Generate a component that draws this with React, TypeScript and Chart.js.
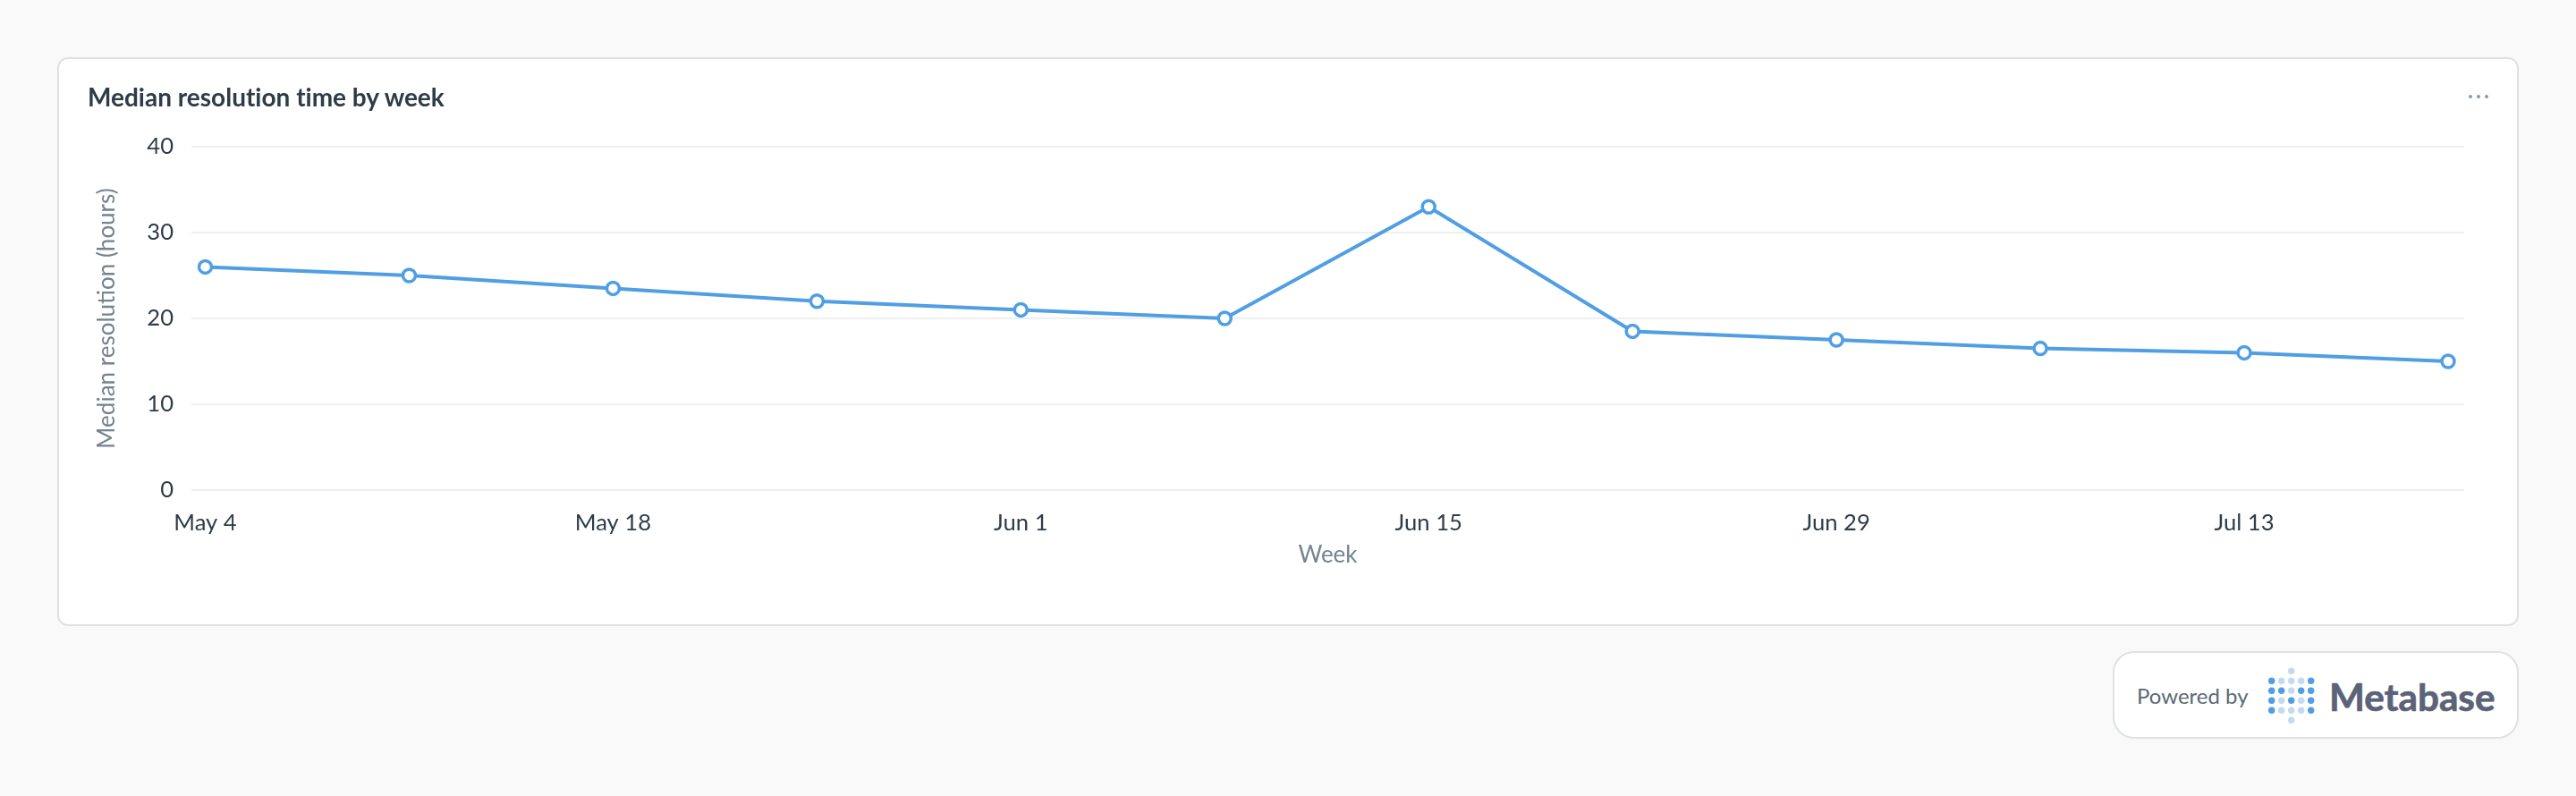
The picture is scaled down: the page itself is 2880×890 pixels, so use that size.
import { useEffect, useRef } from 'react';
import { Chart, registerables } from 'chart.js';

Chart.register(...registerables);

const weeks = ['May 4', 'May 11', 'May 18', 'May 25', 'Jun 1', 'Jun 8', 'Jun 15', 'Jun 22', 'Jun 29', 'Jul 6', 'Jul 13', 'Jul 20'];
const medianHours = [26, 25, 23.5, 22, 21, 20, 33, 18.5, 17.5, 16.5, 16, 15];
const weekTicks = [0, 2, 4, 6, 8, 10];
const hourTicks = [0, 10, 20, 30, 40];

const BLUE = '#509ee3';
const PALE = '#c4daf1';
const TICK_COLOR = '#2e3c48';
const LOGO_ROWS = [
  [BLUE, PALE, PALE, PALE, BLUE],
  [BLUE, BLUE, PALE, BLUE, BLUE],
  [BLUE, PALE, BLUE, PALE, BLUE],
  [BLUE, PALE, PALE, PALE, BLUE],
];

function Logo() {
  return (
    <svg width="60" height="66" style={{ position: 'absolute', left: 2532, top: 745 }}>
      <circle cx="29.7" cy="5.3" r="3.7" fill={PALE} />
      <circle cx="29.7" cy="60.3" r="3.7" fill={PALE} />
      {LOGO_ROWS.map((row, r) =>
        row.map((color, c) => <circle key={`${r}-${c}`} cx={7.7 + c * 11} cy={16.3 + r * 11} r="3.7" fill={color} />)
      )}
    </svg>
  );
}

export default function App() {
  const chartRef = useRef<HTMLCanvasElement>(null);

  useEffect(() => {
    document.body.style.margin = '0';
    document.body.style.background = '#f9f9f9';
    if (!chartRef.current) return;

    const chart = new Chart(chartRef.current, {
      type: 'line',
      data: {
        datasets: [
          {
            label: 'Median resolution (hours)',
            data: medianHours.map((y, x) => ({ x, y })),
            borderColor: BLUE,
            borderWidth: 4,
            tension: 0,
            pointBackgroundColor: '#ffffff',
            pointBorderColor: BLUE,
            pointBorderWidth: 3.5,
            pointRadius: 7,
          },
        ],
      },
      options: {
        animation: false,
        responsive: false,
        devicePixelRatio: 1,
        layout: { padding: { top: 99, right: 60 } },
        plugins: { legend: { display: false }, tooltip: { enabled: false } },
        scales: {
          x: {
            type: 'linear',
            min: -0.068,
            max: 11.079,
            afterBuildTicks: (axis) => {
              axis.ticks = weekTicks.map((value) => ({ value }));
            },
            afterFit: (axis) => {
              axis.height = 150;
            },
            grid: { display: false },
            border: { display: false },
            ticks: {
              autoSkip: false,
              maxRotation: 0,
              padding: 13,
              color: TICK_COLOR,
              font: { family: 'Lato', size: 25.6 },
              callback: (value) => weeks[Number(value)],
            },
            title: {
              display: true,
              text: 'Week',
              color: '#74838f',
              font: { family: 'Lato', size: 26 },
              padding: { top: 0, bottom: 62 },
            },
          },
          y: {
            min: 0,
            max: 40,
            afterBuildTicks: (axis) => {
              axis.ticks = hourTicks.map((value) => ({ value }));
            },
            afterFit: (axis) => {
              axis.width = 149;
            },
            grid: { color: '#eeeff0', lineWidth: 2, drawTicks: false },
            border: { display: false },
            ticks: {
              padding: 20,
              color: TICK_COLOR,
              font: { family: 'Lato', size: 25.6 },
            },
            title: {
              display: true,
              text: 'Median resolution (hours)',
              color: '#74838f',
              font: { family: 'Lato', size: 26 },
              padding: { top: 39, bottom: 0 },
            },
          },
        },
      },
    });

    return () => chart.destroy();
  }, []);

  return (
    <div style={{ position: 'relative', width: 2880, height: 890, fontFamily: 'Lato', overflow: 'hidden' }}>
      <div
        style={{
          position: 'absolute',
          left: 64,
          top: 64,
          width: 2752,
          height: 636,
          boxSizing: 'border-box',
          background: '#ffffff',
          border: '2px solid #dee2e2',
          borderRadius: 12,
        }}
      />
      <canvas ref={chartRef} width={2750} height={633} style={{ position: 'absolute', left: 65, top: 65 }} />
      <div
        style={{
          position: 'absolute',
          left: 98,
          top: 90,
          fontSize: 28,
          fontWeight: 700,
          lineHeight: '36px',
          color: '#2e3c48',
          whiteSpace: 'nowrap',
          fontVariantLigatures: 'none',
        }}
      >
        Median resolution time by week
      </div>
      {[2762, 2771, 2780].map((x) => (
        <div
          key={x}
          style={{ position: 'absolute', left: x - 2, top: 106, width: 4, height: 4, borderRadius: 2, background: '#8c9aa3' }}
        />
      ))}
      <div
        style={{
          position: 'absolute',
          left: 2362,
          top: 728,
          width: 454,
          height: 98,
          boxSizing: 'border-box',
          background: '#ffffff',
          border: '2px solid #dee2e2',
          borderRadius: 24,
        }}
      />
      <div style={{ position: 'absolute', left: 2389, top: 763, fontSize: 24, lineHeight: '30px', color: '#5a6a75', whiteSpace: 'nowrap' }}>
        Powered by
      </div>
      <Logo />
      <div
        style={{
          position: 'absolute',
          left: 2604,
          top: 752,
          fontSize: 42.3,
          fontWeight: 700,
          lineHeight: '54px',
          color: '#5c6379',
          whiteSpace: 'nowrap',
          WebkitTextStroke: '0.7px #5c6379',
        }}
      >
        Metabase
      </div>
    </div>
  );
}
